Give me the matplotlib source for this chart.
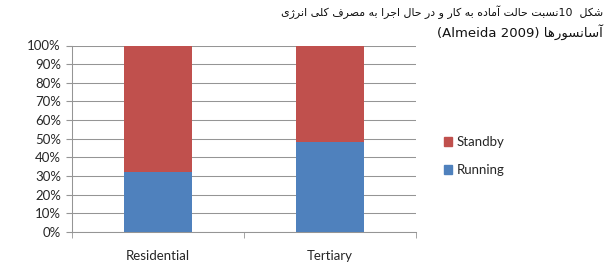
import numpy as np
import matplotlib
matplotlib.use('Agg')
import matplotlib.pyplot as plt
from matplotlib.patches import Patch

categories = ['Residential', 'Tertiary']
running = [32, 48]
standby = [68, 52]
y_ticks = [0, 10, 20, 30, 40, 50, 60, 70, 80, 90, 100]

title_line1 = 'شکل  10نسبت حالت آماده به کار و در حال اجرا به مصرف کلی انرژی'
title_line2 = 'آسانسورها (Almeida 2009)'

# presentation forms: isolated, final, initial, medial
FORMS = {
    'ا': ('\uFE8D', '\uFE8E'), 'آ': ('\uFE81', '\uFE82'),
    'د': ('\uFEA9', '\uFEAA'), 'ر': ('\uFEAD', '\uFEAE'),
    'ز': ('\uFEAF', '\uFEB0'), 'ژ': ('\uFB8A', '\uFB8B'),
    'و': ('\uFEED', '\uFEEE'),
    'ب': ('\uFE8F', '\uFE90', '\uFE91', '\uFE92'),
    'ت': ('\uFE95', '\uFE96', '\uFE97', '\uFE98'),
    'ج': ('\uFE9D', '\uFE9E', '\uFE9F', '\uFEA0'),
    'ح': ('\uFEA1', '\uFEA2', '\uFEA3', '\uFEA4'),
    'س': ('\uFEB1', '\uFEB2', '\uFEB3', '\uFEB4'),
    'ش': ('\uFEB5', '\uFEB6', '\uFEB7', '\uFEB8'),
    'ص': ('\uFEB9', '\uFEBA', '\uFEBB', '\uFEBC'),
    'ف': ('\uFED1', '\uFED2', '\uFED3', '\uFED4'),
    'ک': ('\uFB8E', '\uFB8F', '\uFB90', '\uFB91'),
    'ل': ('\uFEDD', '\uFEDE', '\uFEDF', '\uFEE0'),
    'م': ('\uFEE1', '\uFEE2', '\uFEE3', '\uFEE4'),
    'ن': ('\uFEE5', '\uFEE6', '\uFEE7', '\uFEE8'),
    'ه': ('\uFEE9', '\uFEEA', '\uFEEB', '\uFEEC'),
    'ی': ('\uFBFC', '\uFBFD', '\uFBFE', '\uFBFF'),
}


def shape_word(w):
    out = []
    for i, c in enumerate(w):
        if c not in FORMS:
            out.append(c)
            continue
        f = FORMS[c]
        prev = w[i - 1] if i > 0 else None
        nxt = w[i + 1] if i + 1 < len(w) else None
        join_prev = prev in FORMS and len(FORMS[prev]) == 4
        join_next = len(f) == 4 and nxt in FORMS
        if join_prev and join_next:
            out.append(f[3])
        elif join_prev:
            out.append(f[1])
        elif join_next:
            out.append(f[2])
        else:
            out.append(f[0])
    return ''.join(out)


def rtl_visual(text):
    # split into arabic words and latin/number runs, lay them out right to left
    tokens = []
    cur, cur_ar = '', None
    for c in text:
        is_ar = c in FORMS
        if c == ' ':
            if cur:
                tokens.append((cur, cur_ar))
            tokens.append((' ', None))
            cur, cur_ar = '', None
        elif cur and is_ar != cur_ar:
            tokens.append((cur, cur_ar))
            cur, cur_ar = c, is_ar
        else:
            cur += c
            cur_ar = is_ar
    if cur:
        tokens.append((cur, cur_ar))
    parts = []
    for tok, ar in tokens:
        parts.append(shape_word(tok)[::-1] if ar else tok)
    return ''.join(parts[::-1])


def line2_visual(text):
    ar, lat = text.split(' ', 1)
    return lat + ' ' + shape_word(ar)[::-1]


colors = {'Running': '#4F81BD', 'Standby': '#C0504D'}
grid_c = '#959595'
txt_c = '#262626'
lab_font = ['Lato', 'DejaVu Sans']

fig = plt.figure(figsize=(6.13, 2.68), dpi=100)
ax = fig.add_axes([72 / 613, 1 - 232 / 268, (416 - 72) / 613, (232 - 45.5) / 268])

x = np.arange(len(categories))
ax.bar(x, running, width=0.4, color=colors['Running'], zorder=3)
ax.bar(x, standby, width=0.4, bottom=running, color=colors['Standby'], zorder=3)

ax.set_xlim(-0.5, 1.5)
ax.set_ylim(0, 100)
ax.set_yticks(y_ticks)
ax.set_yticklabels([f'{v}%' for v in y_ticks], family=lab_font)
ax.yaxis.grid(True, color=grid_c, lw=0.75, zorder=0)
ax.set_xticks(x)
ax.set_xticklabels(categories, family=lab_font)
ax.set_xticks([-0.5, 0.5, 1.5], minor=True)
ax.tick_params(axis='x', which='major', length=0, pad=13, labelsize=9.5, labelcolor=txt_c)
ax.tick_params(axis='x', which='minor', length=4, color=grid_c)
ax.tick_params(axis='y', length=4, color=grid_c, labelsize=9.5, labelcolor=txt_c, pad=4)
for s in ['top', 'right']:
    ax.spines[s].set_visible(False)
for s in ['left', 'bottom']:
    ax.spines[s].set_color(grid_c)
    ax.spines[s].set_linewidth(0.75)

handles = [Patch(color=colors['Standby']), Patch(color=colors['Running'])]
leg = fig.legend(handles, ['Standby', 'Running'], loc='center left',
                 bbox_to_anchor=(432 / 613, 1 - 156 / 268), frameon=False,
                 prop={'family': lab_font, 'size': 9.5}, handlelength=0.65,
                 handleheight=0.65, handletextpad=0.3, labelspacing=1.2)
for t in leg.get_texts():
    t.set_color(txt_c)

fig.text(603 / 613, 1 - 12 / 268, rtl_visual(title_line1), ha='right', va='center',
         fontsize=7.9, family=['DejaVu Sans'], color='#111111')
fig.text(603 / 613, 1 - 32 / 268, line2_visual(title_line2), ha='right', va='center',
         fontsize=9.5, family=['DejaVu Sans'], color='#111111')

fig.savefig('out.png', dpi=100)
